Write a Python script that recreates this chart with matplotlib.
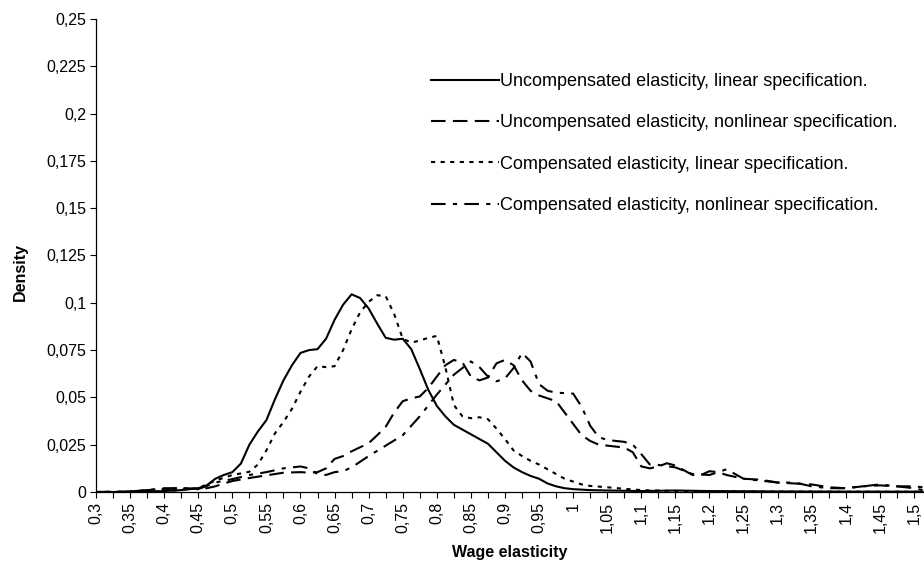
import matplotlib
matplotlib.use("Agg")
import matplotlib.pyplot as plt
from matplotlib.ticker import MultipleLocator, FuncFormatter

plt.rcParams['font.family'] = ['Liberation Sans', 'DejaVu Sans']

# Uncompensated elasticity, linear specification (solid)
ul_x = [0.3, 0.35, 0.4, 0.425, 0.45, 0.4625, 0.475, 0.4875, 0.5, 0.5125, 0.525, 0.5375, 0.55, 0.5625,
        0.575, 0.5875, 0.6, 0.6125, 0.625, 0.6375, 0.65, 0.6625, 0.675, 0.6875, 0.7, 0.7125, 0.725,
        0.7375, 0.75, 0.7625, 0.775, 0.7875, 0.8, 0.8125, 0.825, 0.8375, 0.85, 0.8625, 0.875, 0.8875,
        0.9, 0.9125, 0.925, 0.9375, 0.95, 0.9625, 0.975, 0.9875, 1.0, 1.025, 1.05, 1.1, 1.15, 1.2,
        1.3, 1.4, 1.5125]
ul_y = [0, 0, 0.0005, 0.001, 0.002, 0.0035, 0.007, 0.009, 0.0105, 0.015, 0.025, 0.032, 0.038, 0.049,
        0.059, 0.067, 0.0735, 0.075, 0.0755, 0.081, 0.091, 0.099, 0.1045, 0.1025, 0.097, 0.089, 0.0815,
        0.0805, 0.081, 0.0755, 0.065, 0.054, 0.0455, 0.04, 0.0355, 0.033, 0.0305, 0.028, 0.0255, 0.021,
        0.0165, 0.013, 0.0105, 0.0085, 0.007, 0.0045, 0.003, 0.002, 0.0015, 0.001, 0.0008, 0.0005,
        0.0008, 0.0005, 0.0003, 0.0002, 0.0002]

# Uncompensated elasticity, nonlinear specification (long dash)
un_x = [0.3, 0.35, 0.375, 0.4, 0.425, 0.45, 0.4625, 0.475, 0.4875, 0.5, 0.525, 0.55, 0.575, 0.6,
        0.6125, 0.625, 0.6375, 0.65, 0.6625, 0.675, 0.7, 0.7125, 0.725, 0.7375, 0.75, 0.7625, 0.775,
        0.7875, 0.8, 0.8125, 0.825, 0.8375, 0.85, 0.8625, 0.875, 0.8875, 0.9, 0.9125, 0.925, 0.9375,
        0.95, 0.9625, 0.975, 0.9875, 1.0, 1.0125, 1.025, 1.0375, 1.05, 1.0625, 1.075, 1.0875, 1.1,
        1.1125, 1.125, 1.1375, 1.15, 1.1625, 1.175, 1.1875, 1.2, 1.2125, 1.225, 1.25, 1.275, 1.3,
        1.325, 1.35, 1.375, 1.4, 1.425, 1.45, 1.475, 1.5, 1.5125]
un_y = [0, 0.0003, 0.001, 0.0015, 0.002, 0.0018, 0.002, 0.003, 0.0045, 0.0058, 0.0074, 0.0088,
        0.0102, 0.0105, 0.0102, 0.0105, 0.0125, 0.0175, 0.019, 0.0215, 0.0258, 0.03, 0.0345, 0.042,
        0.048, 0.0495, 0.0505, 0.055, 0.061, 0.067, 0.0698, 0.0685, 0.061, 0.059, 0.0605, 0.068,
        0.0698, 0.067, 0.059, 0.0535, 0.051, 0.0495, 0.048, 0.042, 0.036, 0.03, 0.027, 0.025, 0.0245,
        0.024, 0.0235, 0.021, 0.0135, 0.0125, 0.0135, 0.0152, 0.014, 0.0115, 0.009, 0.009, 0.011,
        0.0105, 0.009, 0.007, 0.0065, 0.005, 0.0045, 0.004, 0.0025, 0.002, 0.003, 0.0035, 0.003,
        0.003, 0.0025]

# Compensated elasticity, linear specification (dotted)
cl_x = [0.3, 0.4, 0.45, 0.4625, 0.475, 0.4875, 0.5, 0.5125, 0.525, 0.5375, 0.55, 0.5625, 0.575,
        0.5875, 0.6, 0.6125, 0.625, 0.6375, 0.65, 0.6625, 0.675, 0.6875, 0.7, 0.7125, 0.725, 0.7375,
        0.75, 0.7625, 0.775, 0.7875, 0.8, 0.8125, 0.825, 0.8375, 0.85, 0.8625, 0.875, 0.8875, 0.9,
        0.9125, 0.925, 0.9375, 0.95, 0.9625, 0.975, 0.9875, 1.0, 1.0125, 1.025, 1.05, 1.075, 1.1,
        1.15, 1.2, 1.3, 1.5125]
cl_y = [0, 0.0003, 0.002, 0.004, 0.006, 0.0075, 0.009, 0.0098, 0.0107, 0.0145, 0.022, 0.031, 0.037,
        0.044, 0.053, 0.061, 0.0665, 0.066, 0.0665, 0.075, 0.086, 0.095, 0.1005, 0.104, 0.1035, 0.094,
        0.081, 0.079, 0.08, 0.0815, 0.0825, 0.066, 0.046, 0.04, 0.039, 0.0395, 0.0385, 0.0335, 0.028,
        0.022, 0.019, 0.0165, 0.0145, 0.012, 0.0095, 0.007, 0.0055, 0.004, 0.0032, 0.0025, 0.0017,
        0.001, 0.0005, 0.0003, 0.0002, 0.0001]

# Compensated elasticity, nonlinear specification (dash-dot)
cn_x = [0.3, 0.325, 0.35, 0.375, 0.4, 0.425, 0.45, 0.475, 0.5, 0.525, 0.55, 0.575, 0.6, 0.6125,
        0.625, 0.6375, 0.65, 0.6625, 0.675, 0.7, 0.725, 0.75, 0.775, 0.8, 0.825, 0.85, 0.8625, 0.875,
        0.8875, 0.9, 0.9125, 0.925, 0.9375, 0.95, 0.9625, 0.975, 1.0, 1.0125, 1.025, 1.0375, 1.05,
        1.075, 1.0875, 1.1, 1.1125, 1.125, 1.15, 1.175, 1.2, 1.225, 1.25, 1.275, 1.3, 1.325, 1.35,
        1.375, 1.4, 1.425, 1.45, 1.475, 1.5, 1.5125]
cn_y = [0, 0, 0.0003, 0.001, 0.002, 0.002, 0.0015, 0.005, 0.0068, 0.009, 0.0105, 0.0125, 0.0135,
        0.0125, 0.0095, 0.009, 0.0105, 0.011, 0.013, 0.019, 0.0245, 0.03, 0.04, 0.0515, 0.062, 0.069,
        0.066, 0.061, 0.0585, 0.06, 0.0655, 0.0735, 0.069, 0.057, 0.0535, 0.0525, 0.052, 0.045, 0.035,
        0.029, 0.0275, 0.0265, 0.025, 0.02, 0.0145, 0.0143, 0.013, 0.0095, 0.009, 0.012, 0.007, 0.006,
        0.005, 0.005, 0.003, 0.002, 0.002, 0.003, 0.004, 0.003, 0.002, 0.001]

labels = ['Uncompensated elasticity, linear specification.',
          'Uncompensated elasticity, nonlinear specification.',
          'Compensated elasticity, linear specification.',
          'Compensated elasticity, nonlinear specification.']


def comma(v, pos):
    s = ('%.3f' % v).rstrip('0').rstrip('.')
    return s.replace('.', ',')


fig = plt.figure(figsize=(9.24, 5.69), dpi=100)
ax = fig.add_axes([96 / 924, 77 / 569, 828 / 924, 473 / 569])

lw = 1.5
l1, = ax.plot(ul_x, ul_y, color='black', lw=lw, label=labels[0])
l2, = ax.plot(un_x, un_y, color='black', lw=lw, label=labels[1])
l2.set_dashes([7, 3.5])
l3, = ax.plot(cl_x, cl_y, color='black', lw=lw, label=labels[2])
l3.set_dashes([2, 2.6])
l4, = ax.plot(cn_x, cn_y, color='black', lw=lw, label=labels[3])
l4.set_dashes([7, 3.5, 2, 3.5])

ax.set_xlim(0.3, 1.5147)
ax.set_ylim(0, 0.25)

ax.xaxis.set_major_locator(MultipleLocator(0.05))
ax.xaxis.set_minor_locator(MultipleLocator(0.025))
ax.yaxis.set_major_locator(MultipleLocator(0.025))
ax.xaxis.set_major_formatter(FuncFormatter(comma))
ax.yaxis.set_major_formatter(FuncFormatter(comma))
ax.tick_params(axis='x', which='both', direction='out', length=4, width=0.8,
               labelrotation=90, labelsize=11.5, pad=3)
ax.tick_params(axis='y', direction='out', length=4, width=0.8, labelsize=11.5, pad=3)

for side in ['top', 'right']:
    ax.spines[side].set_visible(False)
for side in ['left', 'bottom']:
    ax.spines[side].set_linewidth(0.9)

fig.text(510 / 924, 1 - 553 / 569, 'Wage elasticity', fontweight='bold', fontsize=11.5,
         ha='center', va='center')
fig.text(20 / 924, 1 - 272 / 569, 'Density', fontweight='bold', fontsize=11.5,
         rotation=90, ha='center', va='center')

fig.legend(handles=[l1, l2, l3, l4], loc='upper left', bbox_to_anchor=(431 / 924, 1 - 73 / 569),
           frameon=False, fontsize=13, handlelength=3.75, handletextpad=0.05,
           labelspacing=1.35, borderpad=0, borderaxespad=0)

fig.savefig('out.png', dpi=100)
